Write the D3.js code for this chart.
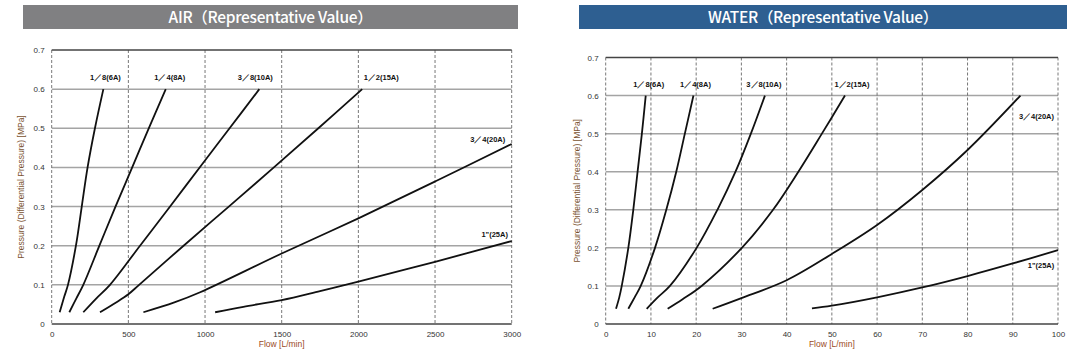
<!DOCTYPE html>
<html>
<head>
<meta charset="utf-8">
<script src="https://cdn.jsdelivr.net/npm/d3@7"></script>
<style>
  body { margin: 0; background: #fff; }
  svg { display: block; }
</style>
</head>
<body>
<div id="chart"></div>
<script>
// tick values
const pressureTicks = [0, 0.1, 0.2, 0.3, 0.4, 0.5, 0.6, 0.7];
const airFlowTicks = [0, 500, 1000, 1500, 2000, 2500, 3000];
const waterFlowTicks = [0, 10, 20, 30, 40, 50, 60, 70, 80, 90, 100];

// pipe sizes (series names)
const sizes = ["1／8(6A)", "1／4(8A)", "3／8(10A)", "1／2(15A)", "3／4(20A)", "1\"(25A)"];

// AIR curves: [flow L/min, pressure MPa]
const air18 = [[52, 0.03], [82, 0.07], [106, 0.1], [158, 0.2], [196, 0.3], [234, 0.4], [282, 0.5], [337, 0.6]];
const air14 = [[115, 0.03], [160, 0.065], [206, 0.1], [311, 0.2], [416, 0.3], [525, 0.4], [633, 0.5], [744, 0.6]];
const air38 = [[206, 0.03], [290, 0.065], [380, 0.1], [576, 0.2], [772, 0.3], [965, 0.4], [1160, 0.5], [1354, 0.6]];
const air12 = [[315, 0.03], [420, 0.055], [500, 0.076], [570, 0.1], [860, 0.2], [1155, 0.3], [1449, 0.4], [1739, 0.5], [2025, 0.6]];
const air34 = [[598, 0.03], [800, 0.055], [968, 0.081], [1500, 0.18], [2000, 0.27], [2500, 0.364], [3000, 0.46]];
const air1 = [[1066, 0.03], [1250, 0.044], [1500, 0.061], [1750, 0.084], [2000, 0.108], [2500, 0.159], [3000, 0.212]];

// WATER curves: [flow L/min, pressure MPa]
const water18 = [[2.28, 0.04], [3.0, 0.07], [3.55, 0.1], [5.0, 0.2], [6.1, 0.3], [7.05, 0.4], [8.0, 0.5], [8.85, 0.6]];
const water14 = [[5.0, 0.04], [6.4, 0.07], [7.75, 0.1], [10.9, 0.2], [13.4, 0.3], [15.6, 0.4], [17.5, 0.5], [19.4, 0.6]];
const water38 = [[9.06, 0.04], [11.5, 0.07], [14.2, 0.1], [20.1, 0.2], [24.7, 0.3], [28.7, 0.4], [32.1, 0.5], [35.2, 0.6]];
const water12 = [[13.7, 0.04], [17.0, 0.065], [21.2, 0.1], [30.1, 0.2], [37.0, 0.3], [42.6, 0.4], [47.8, 0.5], [52.9, 0.6]];
const water34 = [[23.65, 0.04], [30, 0.068], [40, 0.115], [50, 0.184], [60, 0.26], [70, 0.352], [80, 0.457], [91.7, 0.6]];
const water1 = [[45.6, 0.041], [50, 0.048], [60, 0.07], [70, 0.096], [80, 0.126], [90, 0.159], [100, 0.194]];

const svg = d3.select("#chart")
  .append("svg")
    .attr("width", 1078)
    .attr("height", 354);

function drawPanel(opt) {
  const x = d3.scaleLinear().domain([0, opt.xMax]).range([opt.left, opt.right]);
  const y = d3.scaleLinear().domain([0, 0.7]).range([opt.bottom, opt.top]);

  // title bar
  svg.append("rect")
    .attr("x", opt.barLeft)
    .attr("y", 5)
    .attr("width", opt.barRight - opt.barLeft)
    .attr("height", 24)
    .attr("fill", opt.barColor);

  svg.append("text")
    .attr("x", (opt.barLeft + opt.barRight) / 2)
    .attr("y", 23)
    .attr("text-anchor", "middle")
    .attr("fill", "#fff")
    .style("font-family", "'Noto Sans CJK KR', 'Noto Sans', sans-serif")
    .style("font-size", "15.5px")
    .style("font-weight", "500")
    .style("letter-spacing", "-0.3px")
    .text(opt.title);

  const g = svg.append("g");

  // horizontal gridlines
  g.selectAll(".hgrid")
    .data(pressureTicks.slice(1, -1))
    .join("line")
    .attr("x1", opt.left)
    .attr("x2", opt.right)
    .attr("y1", d => y(d))
    .attr("y2", d => y(d))
    .attr("stroke", "#a4a4a4")
    .attr("stroke-width", 1.5);

  // vertical dashed gridlines (incl. left/right edges)
  g.selectAll(".vgrid")
    .data(opt.ticks)
    .join("line")
    .attr("x1", d => x(d))
    .attr("x2", d => x(d))
    .attr("y1", opt.top)
    .attr("y2", opt.bottom)
    .attr("stroke", "#555")
    .attr("stroke-width", 0.8)
    .attr("stroke-dasharray", "3,2");

  // top + bottom border
  g.append("line")
    .attr("x1", opt.left).attr("x2", opt.right)
    .attr("y1", opt.top).attr("y2", opt.top)
    .attr("stroke", "#444").attr("stroke-width", 1.3);
  g.append("line")
    .attr("x1", opt.left).attr("x2", opt.right)
    .attr("y1", opt.bottom).attr("y2", opt.bottom)
    .attr("stroke", "#444").attr("stroke-width", 1.3);

  // axes (labels only)
  const xAxis = svg.append("g")
    .attr("transform", `translate(0, ${opt.bottom})`)
    .call(d3.axisBottom(x).tickValues(opt.ticks).tickSize(0).tickPadding(7)
      .tickFormat(d => String(d)));
  const yAxis = svg.append("g")
    .attr("transform", `translate(${opt.left}, 0)`)
    .call(d3.axisLeft(y).tickValues(pressureTicks).tickSize(0).tickPadding(7)
      .tickFormat(d => d === 0 ? "0" : d3.format(".1f")(d)));
  [xAxis, yAxis].forEach(a => {
    a.select(".domain").remove();
    a.selectAll("text")
      .attr("fill", "#333")
      .style("font-family", "'Liberation Sans', Arial, sans-serif")
      .style("font-size", "8px");
  });

  // axis titles
  svg.append("text")
    .attr("x", (opt.left + opt.right) / 2)
    .attr("y", 347)
    .attr("text-anchor", "middle")
    .attr("fill", "#9a4a26")
    .style("font-family", "'Liberation Sans', Arial, sans-serif")
    .style("font-size", "8.5px")
    .text("Flow [L/min]");

  svg.append("text")
    .attr("transform", `translate(${opt.yTitleX}, ${(opt.top + opt.bottom) / 2}) rotate(-90)`)
    .attr("text-anchor", "middle")
    .attr("fill", "#7a5230")
    .style("font-family", "'Liberation Sans', Arial, sans-serif")
    .style("font-size", "8.5px")
    .text("Pressure (Differential Pressure) [MPa]");

  // curves
  const line = d3.line()
    .x(d => x(d[0]))
    .y(d => y(d[1]))
    .curve(d3.curveCatmullRom.alpha(0.5));

  g.selectAll(".curve")
    .data(opt.series)
    .join("path")
    .attr("d", d => line(d))
    .attr("fill", "none")
    .attr("stroke", "#111")
    .attr("stroke-width", 1.8);

  // labels next to curve end points
  g.selectAll(".lbl")
    .data(opt.series)
    .join("text")
    .attr("x", (d, i) => x(d[d.length - 1][0]) + opt.labelOffset[i][0])
    .attr("y", (d, i) => y(d[d.length - 1][1]) + opt.labelOffset[i][1])
    .attr("text-anchor", "middle")
    .attr("fill", "#111")
    .style("font-family", "'Liberation Sans', Arial, sans-serif")
    .style("font-size", "7.5px")
    .style("font-weight", "bold")
    .text((d, i) => sizes[i]);
}

drawPanel({
  title: "AIR（Representative Value）",
  barColor: "#808082",
  barLeft: 23, barRight: 518,
  left: 51.7, right: 511.7, top: 50, bottom: 324,
  xMax: 3000,
  ticks: airFlowTicks,
  yTitleX: 24,
  series: [air18, air14, air38, air12, air34, air1],
  labelOffset: [[2, -9], [4, -9], [-4, -9], [19, -9], [-24, -2], [-17, -4]]
});

drawPanel({
  title: "WATER（Representative Value）",
  barColor: "#2e5f91",
  barLeft: 579, barRight: 1067,
  left: 605.7, right: 1058, top: 57.5, bottom: 324,
  xMax: 100,
  ticks: waterFlowTicks,
  yTitleX: 580,
  series: [water18, water14, water38, water12, water34, water1],
  labelOffset: [[3, -9], [2, -9], [-1, -9], [7, -9], [16, 23], [-17, 18]]
});
</script>
</body>
</html>
